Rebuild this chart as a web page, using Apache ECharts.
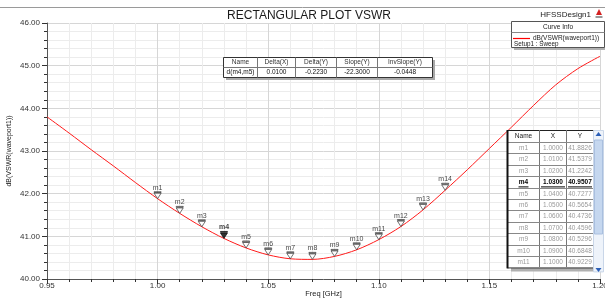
<!DOCTYPE html>
<html>
<head>
<meta charset="utf-8">
<script src="https://cdn.jsdelivr.net/npm/echarts@6/dist/echarts.min.js"></script>
<style>
html,body{margin:0;padding:0;background:#fff;}
#chart{width:605px;height:300px;}
</style>
</head>
<body>
<div id="chart"></div>
<script>
// ---- data ----
const freqs = [0.95,0.96,0.97,0.98,0.99,1.00,1.01,1.02,1.03,1.04,1.05,1.06,1.07,1.08,1.09,1.10,1.11,1.12,1.13,1.14,1.15,1.16,1.17,1.18,1.19,1.20];
const vswrDb = [43.80,43.42,43.03,42.65,42.26,41.8826,41.5379,41.2242,40.9507,40.7277,40.5654,40.4736,40.4596,40.5296,40.6848,40.9229,41.23,41.62,42.08,42.56,43.06,43.56,44.07,44.55,44.93,45.22];
const markerNames = ['m1','m2','m3','m4','m5','m6','m7','m8','m9','m10','m11','m12','m13','m14'];
const markerX = [1.00,1.01,1.02,1.03,1.04,1.05,1.06,1.07,1.08,1.09,1.10,1.11,1.12,1.13];
const markerY = [41.8826,41.5379,41.2242,40.9507,40.7277,40.5654,40.4736,40.4596,40.5296,40.6848,40.9229,41.23,41.62,42.08];
const selectedMarker = 3;       // m4
const deltaPair = [3, 4];       // d(m4,m5)
const tableRows = 11;           // rows visible in marker table
const deltaHeaders = ['Name','Delta(X)','Delta(Y)','Slope(Y)','InvSlope(Y)'];
const tableHeaders = ['Name','X','Y'];
const titleText = 'RECTANGULAR PLOT VSWR';
const designText = 'HFSSDesign1';
const traceName = 'dB(VSWR(waveport1))';
const setupName = 'Setup1 : Sweep';
const xName = 'Freq [GHz]';
const yName = 'dB(VSWR(waveport1))';

// ---- helpers ----
const FF = '"Liberation Sans", Arial, sans-serif';
function txt(x, y, s, o) {
  o = o || {};
  return {type:'text', x:x, y:y, z:o.z||110, silent:true,
    style:{text:s, font:(o.weight||'normal')+' '+(o.size||7)+'px '+FF, fill:o.color||'#222',
      align:o.align||'center', verticalAlign:'middle', textAlign:o.align||'center', textVerticalAlign:'middle'}};
}
function rect(x, y, w, h, fill, stroke, lw, z) {
  return {type:'rect', z:z||100, silent:true, shape:{x:x,y:y,width:w,height:h},
    style:{fill:fill, stroke:stroke||null, lineWidth:lw||1}};
}
function line(x1, y1, x2, y2, stroke, lw, z) {
  return {type:'line', z:z||105, silent:true, shape:{x1:x1,y1:y1,x2:x2,y2:y2}, style:{stroke:stroke, lineWidth:lw||1}};
}

const g = [];
// top separator line
g.push(line(0, 7.5, 605, 7.5, '#9a9a9a', 1, 90));
// title & design name
g.push(txt(309, 16, titleText, {size:12, color:'#1a1a1a'}));
g.push(txt(591, 15, designText, {size:8, color:'#222', align:'right'}));
// small logo
g.push({type:'polygon', z:110, silent:true, shape:{points:[[599,9],[596,15],[602,15]]}, style:{fill:'#d42020'}});
g.push(rect(595.5, 16, 7, 2, '#999', null, 1, 110));

// Curve info box
g.push(rect(514, 24, 93, 26, '#b0b0b0', null, 1, 99));
g.push(rect(511.5, 21.5, 93, 26, '#fff', '#555', 1, 100));
g.push(txt(558, 27, 'Curve Info', {size:6.5}));
g.push(line(511.5, 32.5, 604.5, 32.5, '#888', 1));
g.push(line(513, 38.5, 530, 38.5, '#ff0000', 1.2));
g.push(txt(533, 38.5, traceName, {size:6.5, align:'left'}));
g.push(txt(514, 44.5, setupName, {size:6.3, align:'left'}));

// Delta table
const dCols = [223, 257, 295, 336, 377, 432];
const mA = deltaPair[0], mB = deltaPair[1];
const dx = markerX[mB] - markerX[mA];
const dy = markerY[mB] - markerY[mA];
const deltaRow = ['d(' + markerNames[mA] + ',' + markerNames[mB] + ')', dx.toFixed(4), dy.toFixed(4), (dy/dx).toFixed(4), (dx/dy).toFixed(4)];
g.push(rect(226, 60, 209, 20, '#a8a8a8', null, 1, 99));
g.push(rect(dCols[0]+0.5, 57.5, dCols[5]-dCols[0], 20, '#fff', '#333', 1, 100));
g.push(line(dCols[0]+0.5, 67.5, dCols[5]+0.5, 67.5, '#777', 1));
for (let i = 1; i < 5; i++) g.push(line(dCols[i]+0.5, 57.5, dCols[i]+0.5, 77.5, '#777', 1));
for (let i = 0; i < 5; i++) {
  const cx = (dCols[i] + dCols[i+1]) / 2 + 0.5;
  g.push(txt(cx, 62.5, deltaHeaders[i], {size:6.5, color:'#333'}));
  g.push(txt(cx, 72.5, deltaRow[i], {size:6.5, color:'#111'}));
}

// Marker table
const tCols = [507, 539, 566, 593];
const tTop = 130, hdrH = 12, rowH = 11.4;
const tBottom = tTop + hdrH + rowH * tableRows;
g.push(rect(511, tBottom, 92, 4, '#b0b0b0', null, 1, 99));
g.push(rect(tCols[0]+0.5, tTop+0.5, tCols[3]-tCols[0], tBottom - tTop, '#fff', '#222', 1, 100));
g.push(line(tCols[0]+0.5, tTop, tCols[0]+0.5, tBottom+1, '#111', 2, 106));
for (let i = 1; i < 3; i++) g.push(line(tCols[i]+0.5, tTop, tCols[i]+0.5, tBottom, '#777', 1));
for (let r = 0; r <= tableRows; r++) {
  const y = Math.round(tTop + hdrH + rowH * r) + 0.5;
  g.push(line(tCols[0], y, tCols[3], y, '#888', 1));
}
for (let i = 0; i < 3; i++) {
  g.push(txt((tCols[i]+tCols[i+1])/2 + 0.5, tTop + hdrH/2 + 0.5, tableHeaders[i], {size:6.5, color:'#222'}));
}
for (let r = 0; r < tableRows; r++) {
  const cy = tTop + hdrH + rowH * r + rowH/2 + 0.5;
  const sel = r === selectedMarker;
  const col = sel ? '#000' : '#9a9a9a';
  const w = sel ? 'bold' : 'normal';
  const vals = [markerNames[r], markerX[r].toFixed(4), markerY[r].toFixed(4)];
  for (let i = 0; i < 3; i++) {
    const cx = (tCols[i]+tCols[i+1])/2 + 0.5;
    g.push(txt(cx, cy, vals[i], {size:6.5, color:col, weight:w}));
    if (sel) {
      const half = i === 0 ? 5 : 12;
      g.push(line(cx - half, cy + 4.5, cx + half, cy + 4.5, '#000', 1, 111));
    }
  }
}
// scrollbar
g.push(rect(593.5, tTop+0.5, 10, tBottom - tTop + 4, '#eef3fa', '#c9d6e8', 1, 100));
g.push(rect(594.5, 140, 8, 94, '#c5d7ef', '#a9bfdf', 1, 101));
g.push({type:'polygon', z:110, silent:true, shape:{points:[[598.5,132],[595.5,136],[601.5,136]]}, style:{fill:'#2b5fb8'}});
g.push({type:'polygon', z:110, silent:true, shape:{points:[[598.5,272],[595.5,268],[601.5,268]]}, style:{fill:'#2b5fb8'}});

const chart = echarts.init(document.getElementById('chart'), null, {renderer:'canvas'});
const markerData = markerX.map((x, i) => {
  const d = {value:[x, markerY[i]], name:markerNames[i]};
  if (i === selectedMarker) {
    d.itemStyle = {color:'#000', borderColor:'#000'};
    d.label = {fontWeight:'bold'};
  }
  return d;
});

chart.setOption({
  animation:false,
  textStyle:{fontFamily:FF},
  grid:{left:47, right:5, top:23, bottom:21, containLabel:false, outerBoundsMode:'none'},
  xAxis:{
    type:'value', min:0.95, max:1.20, interval:0.05,
    name:xName, nameLocation:'middle', nameGap:11, nameMoveOverlap:false,
    nameTextStyle:{fontSize:7.5, color:'#222', fontFamily:FF},
    axisLine:{show:true, lineStyle:{color:'#555', width:1}},
    axisTick:{show:true, length:5, lineStyle:{color:'#333'}},
    minorTick:{show:true, splitNumber:5, length:3, lineStyle:{color:'#333'}},
    axisLabel:{fontSize:8, color:'#333', margin:3, formatter:v => v.toFixed(2), fontFamily:FF},
    splitLine:{show:true, lineStyle:{color:'#d6d6d6', width:1}},
    minorSplitLine:{show:true, lineStyle:{color:'#ececec', width:1}}
  },
  yAxis:{
    type:'value', min:40, max:46, interval:1,
    name:yName, nameLocation:'middle', nameGap:34, nameRotate:90, nameMoveOverlap:false,
    nameTextStyle:{fontSize:7, color:'#222', fontFamily:FF},
    axisLine:{show:true, lineStyle:{color:'#555', width:1}},
    axisTick:{show:true, length:5, lineStyle:{color:'#333'}},
    minorTick:{show:true, splitNumber:5, length:3, lineStyle:{color:'#333'}},
    axisLabel:{fontSize:8, color:'#333', margin:7, formatter:v => v.toFixed(2), fontFamily:FF},
    splitLine:{show:true, lineStyle:{color:'#d6d6d6', width:1}},
    minorSplitLine:{show:true, lineStyle:{color:'#ececec', width:1}}
  },
  series:[
    {
      type:'line', name:traceName, data:freqs.map((f, i) => [f, vswrDb[i]]),
      showSymbol:false, smooth:0.3, z:3,
      lineStyle:{color:'#ff1a1a', width:1}
    },
    {
      type:'scatter', data:markerData, z:4,
      symbol:'path://M0,0 L10,0 L10,1.2 L0,1.2 Z M0,2.2 L10,2.2 L5,10 Z',
      symbolSize:[7,7], symbolOffset:[0,'-50%'],
      itemStyle:{color:'#fff', borderColor:'#222', borderWidth:0.8},
      label:{show:true, position:'top', distance:0, fontSize:7, color:'#111', fontFamily:FF,
        formatter:p => p.name}
    }
  ],
  graphic:g
});
</script>
</body>
</html>
